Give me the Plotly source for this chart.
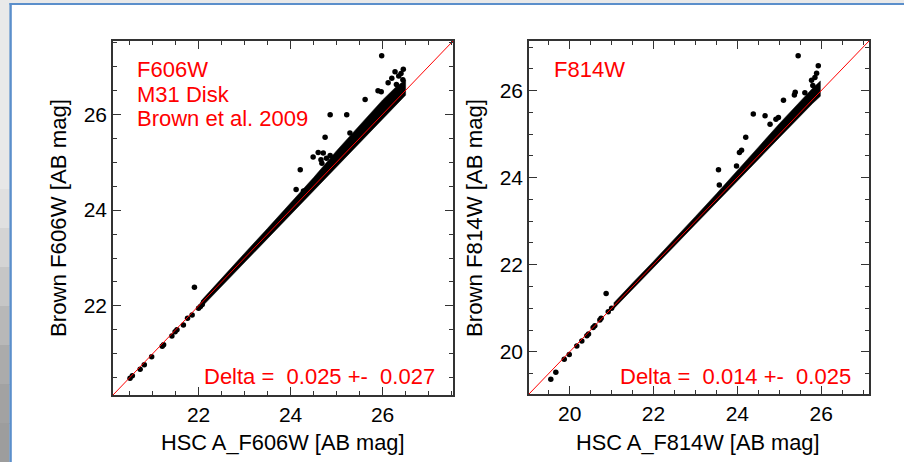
import plotly.graph_objects as go

W, H = 904, 462

# ---------------- data: left panel (F606W) ----------------
f606_x = [20.51, 20.56, 20.73, 20.82, 20.98, 21.21, 21.24, 21.42, 21.49, 21.53, 21.67, 21.76, 21.86, 21.91,
          22.00, 22.04, 22.08,
          24.86, 25.22, 24.75, 24.49, 24.60, 24.71, 24.21, 24.12, 24.28, 24.68, 25.62, 25.90, 25.97,
          26.12, 26.45, 26.27, 26.44, 25.29, 25.98, 24.66, 24.78, 24.86, 26.35, 26.40, 26.20, 26.30]
f606_y = [20.49, 20.54, 20.68, 20.77, 20.94, 21.16, 21.19, 21.37, 21.46, 21.50, 21.60, 21.74, 21.81, 22.39,
          21.95, 21.99, 22.03,
          25.99, 25.99, 25.52, 25.11, 25.20, 25.19, 24.84, 24.43, 24.40, 24.98, 26.31, 26.49, 26.47,
          26.66, 26.94, 26.89, 26.72, 25.61, 27.22, 25.05, 25.08, 25.14, 26.80, 26.85, 26.75, 26.62]

f606_band_x = [22.05, 22.5, 23.0, 23.5, 24.0, 24.5, 25.0, 25.5, 26.0, 26.3, 26.5]
f606_band_lo = [21.96, 22.41, 22.91, 23.41, 23.91, 24.41, 24.91, 25.41, 25.90, 26.20, 26.40]
f606_band_hi = [22.10, 22.58, 23.10, 23.62, 24.14, 24.68, 25.24, 25.78, 26.30, 26.58, 26.72]

# ---------------- data: right panel (F814W) ----------------
f814_x = [19.55, 19.67, 19.87, 19.99, 20.17, 20.29, 20.41, 20.45, 20.56, 20.60, 20.72, 20.75, 20.87, 20.92, 21.00,
          25.45, 25.93, 25.89, 25.85, 25.77, 24.38, 24.66, 25.10, 25.38, 25.36, 24.20, 24.10, 24.05,
          23.98, 23.55, 23.57, 24.78, 24.98, 25.61, 24.92, 25.80]
f814_y = [19.37, 19.53, 19.83, 19.94, 20.13, 20.25, 20.37, 20.41, 20.56, 20.60, 20.73, 20.77, 21.34, 20.92, 21.00,
          26.80, 26.57, 26.40, 26.30, 26.24, 25.46, 25.42, 25.78, 25.96, 25.90, 24.93, 24.63, 24.58,
          24.27, 24.18, 23.83, 25.23, 25.38, 25.95, 25.34, 26.12]

f814_band_x = [21.05, 21.5, 22.0, 22.5, 23.0, 23.5, 24.0, 24.5, 25.0, 25.5, 25.8, 25.98]
f814_band_lo = [20.99, 21.43, 21.93, 22.43, 22.93, 23.42, 23.92, 24.42, 24.92, 25.42, 25.71, 25.87]
f814_band_hi = [21.12, 21.58, 22.08, 22.59, 23.11, 23.63, 24.16, 24.70, 25.24, 25.76, 26.06, 26.22]

left_range = [20.14, 27.53]
right_range = [19.03, 27.14]

def px(x):
    return x / W

def py(y):
    return 1 - y / H

fig = go.Figure()

def add_panel(xa, ya, bx, blo, bhi, sx, sy, rng):
    fig.add_trace(go.Scatter(
        x=bx + bx[::-1], y=blo + bhi[::-1], mode="lines", fill="toself",
        fillcolor="black", line=dict(color="black", width=0.5),
        xaxis=xa, yaxis=ya, hoverinfo="skip", showlegend=False))
    fig.add_trace(go.Scatter(
        x=sx, y=sy, mode="markers", marker=dict(color="black", size=5.5),
        xaxis=xa, yaxis=ya, showlegend=False))
    fig.add_trace(go.Scatter(
        x=rng, y=rng, mode="lines", line=dict(color="#ff0000", width=1),
        xaxis=xa, yaxis=ya, hoverinfo="skip", showlegend=False))

add_panel("x", "y", f606_band_x, f606_band_lo, f606_band_hi, f606_x, f606_y, left_range)
add_panel("x2", "y2", f814_band_x, f814_band_lo, f814_band_hi, f814_x, f814_y, right_range)

font_fam = "Liberation Sans, Arial, Helvetica, sans-serif"

def axis_style(rng, domain, standoff):
    return dict(
        range=rng, domain=domain, showgrid=False, zeroline=False,
        showline=True, linecolor="#333333", linewidth=1.5, mirror="allticks",
        ticks="inside", ticklen=8, tickwidth=1.2, tickcolor="#333333",
        dtick=2, tick0=0, ticklabelstandoff=standoff,
        minor=dict(ticks="inside", ticklen=4, dtick=0.5, tick0=0, tickcolor="#333333", tickwidth=1.2),
        tickfont=dict(family=font_fam, size=21, color="black"),
        fixedrange=True,
    )

l_xdom = [px(113), px(453)]
l_ydom = [py(395), py(41)]
r_xdom = [px(529), px(869)]
r_ydom = [py(394), py(41)]

shapes = []
shapes.append(dict(type="rect", xref="paper", yref="paper", x0=px(11), x1=px(W + 5), y0=py(H + 5), y1=py(4.5),
                   fillcolor="white", line=dict(width=0), layer="below"))
grays = ["#e7e7e7", "#e0e0e0", "#d4d4d4", "#c6c6c6", "#b8b8b8", "#ababab", "#a2a2a2", "#9d9d9d"]
n = len(grays)
for i, g in enumerate(grays):
    y0 = 150 + (H - 150) * i / n
    y1 = 150 + (H - 150) * (i + 1) / n
    shapes.append(dict(type="rect", xref="paper", yref="paper", x0=px(0), x1=px(9.5), y0=py(y1 + 1), y1=py(y0),
                       fillcolor=g, line=dict(width=0), layer="below"))
shapes.append(dict(type="line", xref="paper", yref="paper", x0=px(9.5), x1=px(W + 5), y0=py(4), y1=py(4),
                   line=dict(color="#5b8fcb", width=2.2), layer="below"))
shapes.append(dict(type="line", xref="paper", yref="paper", x0=px(10.6), x1=px(10.6), y0=py(3), y1=py(H + 5),
                   line=dict(color="#5b8fcb", width=2.4), layer="below"))

red = "#ff0000"
ann = []
def txt(text, x, y, size=22, color=red, xanchor="left", yanchor="middle", angle=0):
    ann.append(dict(text=text, x=px(x), y=py(y), xref="paper", yref="paper", showarrow=False,
                    xanchor=xanchor, yanchor=yanchor, textangle=angle,
                    font=dict(family=font_fam, size=size, color=color)))

txt("F606W", 135, 70)
txt("M31 Disk", 135, 94)
txt("Brown et al. 2009", 135, 118)
txt("F814W", 552, 70)
txt("Delta =\u00a0\u00a00.025 +-\u00a0\u00a00.027", 437, 376, xanchor="right")
txt("Delta =\u00a0\u00a00.014 +-\u00a0\u00a00.025", 853, 376, xanchor="right")
txt("HSC A_F606W [AB mag]", 283, 442, size=21.8, color="black", xanchor="center")
txt("HSC A_F814W [AB mag]", 698, 442, size=21.8, color="black", xanchor="center")
txt("Brown F606W [AB mag]", 58, 218, size=22.2, color="black", xanchor="center", angle=-90)
txt("Brown F814W [AB mag]", 474, 218, size=22.2, color="black", xanchor="center", angle=-90)

fig.update_layout(
    width=W, height=H, margin=dict(l=0, r=0, t=0, b=0),
    paper_bgcolor="#e9e9e9", plot_bgcolor="white",
    xaxis=dict(axis_style(left_range, l_xdom, 0), anchor="y"),
    yaxis=dict(axis_style(left_range, l_ydom, 0), anchor="x"),
    xaxis2=dict(axis_style(right_range, r_xdom, 0), anchor="y2"),
    yaxis2=dict(axis_style(right_range, r_ydom, 0), anchor="x2"),
    shapes=shapes, annotations=ann, showlegend=False,
)

fig.write_html("out.html", config={"displayModeBar": False})
